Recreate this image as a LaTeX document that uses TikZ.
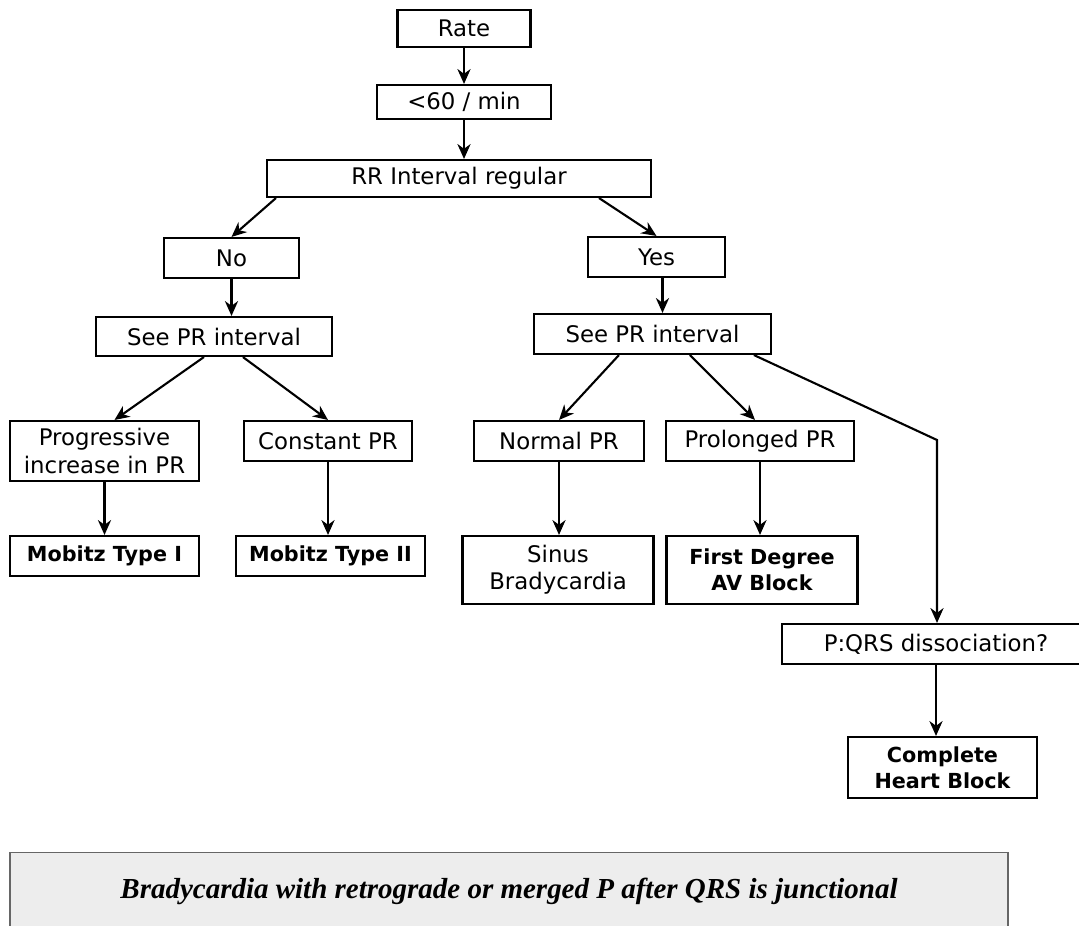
\documentclass[tikz,border=0pt]{standalone}
\usepackage{fontspec}
\setmainfont{DejaVu Sans}
\newfontfamily\notefont{Liberation Serif}
\usetikzlibrary{arrows.meta}
\tikzstyle{box} = [
    draw=black, 
    rectangle, 
    line width=1.2pt, 
    align=center, 
    inner sep=2pt, 
    font=\fontsize{13}{15.5}\selectfont
]
\tikzstyle{result} = [
    box, 
    font=\fontsize{11.8}{15}\selectfont\bfseries
]
\tikzstyle{arrow} = [
    line width=1.2pt, 
    ->, 
    >={Stealth[length=8.5pt,width=7.5pt]}
]

\begin{document}
\begin{tikzpicture}[x=0.02cm, y=-0.02cm]
        \useasboundingbox (0,0) rectangle (1079,926);
        \clip (0,0) rectangle (1079,926);
        \node (rate) [box, minimum width=2.66cm, minimum height=0.74cm] at (464,28.5) {Rate};
        \node (lt60) [box, minimum width=3.48cm, minimum height=0.68cm] at (464,102) {<60 / min};
        \node (rr) [box, minimum width=7.68cm, minimum height=0.74cm] at (459,178.5) {RR Interval regular};
        \node (no) [box, minimum width=2.7cm, minimum height=0.8cm] at (231.5,258) {No};
        \node (yes) [box, minimum width=2.74cm, minimum height=0.8cm] at (656.5,257) {Yes};
        \node (seel) [box, minimum width=4.72cm, minimum height=0.78cm] at (214,336.5) {See PR interval};
        \node (seer) [box, minimum width=4.74cm, minimum height=0.8cm] at (652.5,334) {See PR interval};
        \node (prog) [box, minimum width=3.78cm, minimum height=1.2cm] at (104.5,451) {Progressive\\increase in PR};
        \node (const) [box, minimum width=3.36cm, minimum height=0.8cm] at (328,441) {Constant PR};
        \node (normal) [box, minimum width=3.4cm, minimum height=0.8cm] at (559,441) {Normal PR};
        \node (prolong) [box, minimum width=3.76cm, minimum height=0.8cm] at (760,441) {Prolonged PR};
        \node (mob1) [result, minimum width=3.78cm, minimum height=0.8cm] at (104.5,556) {Mobitz Type I};
        \node (mob2) [result, minimum width=3.78cm, minimum height=0.8cm] at (330.5,556) {Mobitz Type II};
        \node (sinus) [box, minimum width=3.82cm, minimum height=1.36cm] at (558,570) {Sinus\\Bradycardia};
        \node (first) [result, minimum width=3.82cm, minimum height=1.36cm] at (762,570) {First Degree\\AV Block};
        \node (pqrs) [box, minimum width=6.16cm, minimum height=0.8cm] at (936,644) {P:QRS dissociation?};
        \node (chb) [result, minimum width=3.78cm, minimum height=1.22cm] at (942.5,767.5) {Complete\\Heart Block};
        \node (note) [draw=black!60, line width=0.8pt, fill=black!7, minimum width=19.96cm, minimum height=1.56cm, anchor=north, font=\notefont\fontsize{16.5}{19}\selectfont\bfseries\itshape] at (509,852) {Bradycardia with retrograde or merged P after QRS is junctional};
        \coordinate (bend) at (937,440);
        
        \draw[arrow] (rate) -- (lt60);
        \draw[arrow] (lt60.south) -- (lt60.south |- rr.north);
        \draw[arrow] ([xshift=0.2cm]rr.south west) -- (no.north);
        \draw[arrow] ([xshift=-1.06cm]rr.south east) -- (yes.north);
        \draw[arrow] (no.south) -- (no.south |- seel.north);
        \draw[arrow] ([xshift=0.12cm]yes.south) -- ([xshift=0.12cm]yes.south |- seer.north);
        \draw[arrow] ([xshift=2.18cm]seel.south west) -- ([xshift=0.2cm]prog.north);
        \draw[arrow] ([xshift=2.96cm]seel.south west) -- (const.north);
        \draw[arrow] ([xshift=1.72cm]seer.south west) -- (normal.north);
        \draw[arrow] ([xshift=3.14cm]seer.south west) -- ([xshift=-0.1cm]prolong.north);
        \draw[arrow] ([xshift=4.42cm]seer.south west) -- (bend) -- (bend |- pqrs.north);
        \draw[arrow] (prog) -- (mob1);
        \draw[arrow] (const.south) -- (const.south |- mob2.north);
        \draw[arrow] (normal.south) -- (normal.south |- sinus.north);
        \draw[arrow] (prolong.south) -- (prolong.south |- first.north);
        \draw[arrow] (pqrs.south) -- (pqrs.south |- chb.north);
    \end{tikzpicture}
\end{document}
